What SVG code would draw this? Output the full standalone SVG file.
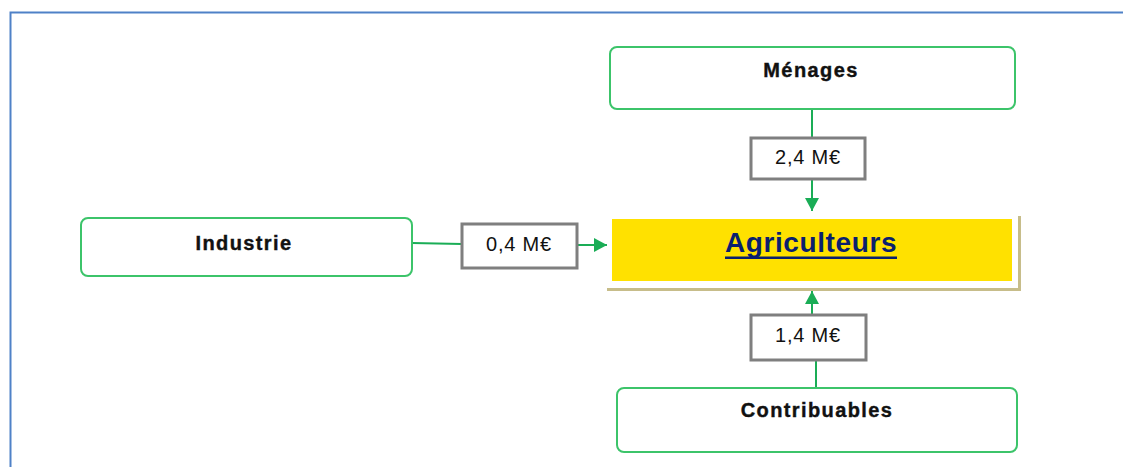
<svg xmlns="http://www.w3.org/2000/svg" width="1123" height="467" viewBox="0 0 1123 467">
  <style>
    .node { fill: #ffffff; stroke: #3cc46a; stroke-width: 2; }
    .name { font-family: "Liberation Sans", Arial, sans-serif; font-size: 20px; font-weight: bold; fill: #111111; stroke: #111111; stroke-width: 0.4; text-anchor: middle; letter-spacing: 1.4px; }
    .amount-box { fill: #ffffff; stroke: #7f7f7f; stroke-width: 3; }
    .amount { font-family: "Liberation Sans", Arial, sans-serif; font-size: 20px; fill: #111111; text-anchor: middle; letter-spacing: 0.8px; }
    .link { stroke: #1aad56; stroke-width: 2; fill: none; }
  </style>
  <defs>
    <marker id="arrow" markerWidth="14" markerHeight="14" refX="13" refY="7" orient="auto" markerUnits="userSpaceOnUse">
      <path d="M0,0 L13,7 L0,14 Z" fill="#1aad56"/>
    </marker>
  </defs>
  <rect width="1123" height="467" fill="#ffffff"/>
  <!-- frame -->
  <path d="M10.5,467 L10.5,12.5 L1123,12.5" fill="none" stroke="#4f81c7" stroke-width="2"/>

  <!-- connectors -->
  <g id="connectors">
    <line class="link" x1="812" y1="109" x2="812" y2="138"/>
    <line class="link" x1="812" y1="179" x2="812" y2="211" marker-end="url(#arrow)"/>
    <line class="link" x1="412" y1="243" x2="462" y2="244"/>
    <line class="link" x1="577" y1="245" x2="607" y2="245" marker-end="url(#arrow)"/>
    <line class="link" x1="816" y1="388" x2="816" y2="360"/>
    <line class="link" x1="812" y1="314" x2="812" y2="291" marker-end="url(#arrow)"/>
  </g>

  <!-- amounts -->
  <g id="amount-menages">
    <rect class="amount-box" x="751" y="138" width="114" height="41"/>
    <text class="amount" x="808" y="164">2,4 M€</text>
  </g>
  <g id="amount-industrie">
    <rect class="amount-box" x="462" y="224" width="115" height="44"/>
    <text class="amount" x="519" y="251">0,4 M€</text>
  </g>
  <g id="amount-contribuables">
    <rect class="amount-box" x="751" y="315" width="115" height="45"/>
    <text class="amount" x="808" y="342">1,4 M€</text>
  </g>

  <!-- nodes -->
  <g id="menages">
    <rect class="node" x="610" y="47" width="405" height="62" rx="7"/>
    <text class="name" x="811" y="77">Ménages</text>
  </g>
  <g id="industrie">
    <rect class="node" x="81" y="218" width="331" height="58" rx="7"/>
    <text class="name" x="244" y="250">Industrie</text>
  </g>
  <g id="contribuables">
    <rect class="node" x="617" y="388" width="400" height="64" rx="7"/>
    <text class="name" x="817" y="417">Contribuables</text>
  </g>
  <g id="agriculteurs">
    <path d="M607,289.5 L1019.5,289.5 L1019.5,216" fill="none" stroke="#c7bd8a" stroke-width="3"/>
    <rect x="612" y="219" width="400" height="62" fill="#ffe100"/>
    <text x="811" y="252" font-family="Liberation Sans, Arial, sans-serif" font-size="28" font-weight="bold" fill="#0b1f6e" text-anchor="middle" letter-spacing="0.6">Agriculteurs</text>
    <rect x="725" y="256.5" width="172" height="2.5" fill="#0b1f6e"/>
  </g>
</svg>
